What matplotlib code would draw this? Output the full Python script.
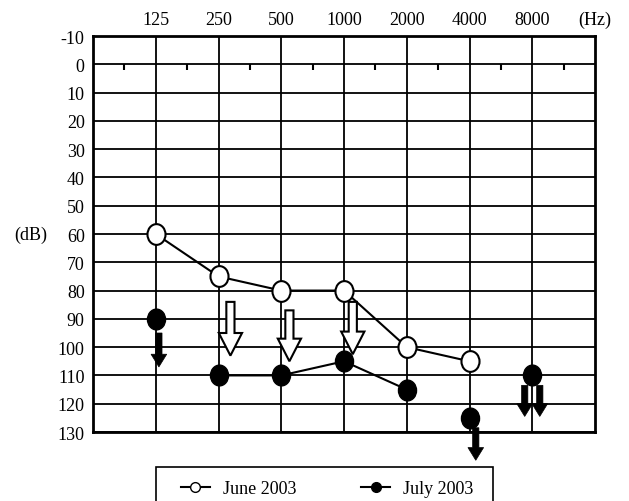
import matplotlib.pyplot as plt
from matplotlib.lines import Line2D
from matplotlib.markers import MarkerStyle
from matplotlib.patches import FancyArrow, Rectangle
from matplotlib.transforms import Affine2D

plt.rcParams['font.family'] = ['Liberation Serif', 'DejaVu Serif']
plt.rcParams['axes.unicode_minus'] = False

freqs = ['125', '250', '500', '1000', '2000', '4000', '8000']
db_ticks = list(range(-10, 131, 10))

# June 2003 (open circles), one value per frequency, None = not measured
june = [60, 75, 80, 80, 100, 105, None]
# July 2003 (filled circles)
july = [90, 110, 110, 105, 115, 125, 110]
july_connected = [1, 2, 3, 4]   # indices joined by the line

# no-response arrows: (frequency index, start dB, tip dB)
june_arrows = [(1, 84, 103), (2, 87, 105), (3, 84, 102.5)]
july_arrows = [(0, 95, 107), (5, 128.5, 140), (6, 113.5, 124.5), (6, 113.5, 124.5)]
july_arrow_shift = [0.05, 0.1, -0.12, 0.12]
june_arrow_shift = [0.19, 0.13, 0.14]

fig = plt.figure(figsize=(6.29, 5.02), dpi=100)
ax = fig.add_axes([93 / 629, 69 / 502, 502 / 629, 396 / 502])

ax.set_xlim(-1, 7)
ax.set_ylim(130, -10)
ax.set_xticks(range(len(freqs)))
ax.set_xticklabels(freqs)
ax.set_yticks(db_ticks)
ax.xaxis.tick_top()
ax.tick_params(length=0, labelsize=13, pad=6)
ax.grid(True, color='black', lw=1.3)
ax.set_axisbelow(True)
for s in ax.spines.values():
    s.set_linewidth(2)

# small ticks hanging off the 0 dB line
ax.vlines([i - 0.5 for i in range(8)], 0, 2, color='black', lw=1.5)

oval = MarkerStyle('o', transform=Affine2D().scale(1, 1.15))

jx = [i for i, v in enumerate(june) if v is not None]
jy = [june[i] for i in jx]
ax.plot(jx, jy, color='black', lw=1.5, zorder=3)
ax.plot(jx, jy, ls='none', marker=oval, ms=13, mfc='white', mec='black', mew=1.5, zorder=5)

ax.plot(july_connected, [july[i] for i in july_connected], color='black', lw=1.5, zorder=3)
ax.plot(range(len(july)), july, ls='none', marker=oval, ms=13, mfc='black', mec='black', zorder=5)

for (i, y0, y1), dx in zip(june_arrows, june_arrow_shift):
    ax.add_patch(FancyArrow(i + dx, y0, 0, y1 - y0, width=0.13, head_width=0.37,
                            head_length=8, length_includes_head=True,
                            fc='white', ec='black', lw=1.5, zorder=4))
for (i, y0, y1), dx in zip(july_arrows, july_arrow_shift):
    ax.add_patch(FancyArrow(i + dx, y0, 0, y1 - y0, width=0.1, head_width=0.25,
                            head_length=4.5, length_includes_head=True,
                            fc='black', ec='black', lw=0.5, zorder=4, clip_on=False))

ax.annotate('(Hz)', xy=(7, 1), xycoords=('data', 'axes fraction'), xytext=(0, 6),
            textcoords='offset points', ha='center', va='bottom', fontsize=13)
ax.annotate('(dB)', xy=(0, 60), xycoords=('axes fraction', 'data'), xytext=(-62, 0),
            textcoords='offset pixels', ha='center', va='center', fontsize=13)

# legend box, cut off by the bottom edge like in the scan
fig.patches.append(Rectangle((156 / 629, -0.05), 337 / 629, 0.05 + 34 / 502,
                             transform=fig.transFigure, fill=False, ec='black', lw=1.2))
handles = [Line2D([], [], color='black', lw=1.5, marker='o', ms=7, mfc='white', mec='black'),
           Line2D([], [], color='black', lw=1.5, marker='o', ms=7, mfc='black', mec='black')]
fig.legend(handles, ['June 2003', 'July 2003'], loc='center left',
           bbox_to_anchor=(172 / 629, 1 - 490 / 502), ncol=2, frameon=False,
           fontsize=13, handlelength=1.6, handletextpad=0.7, columnspacing=3.6,
           borderpad=0)

fig.savefig('out.png', dpi=100)
